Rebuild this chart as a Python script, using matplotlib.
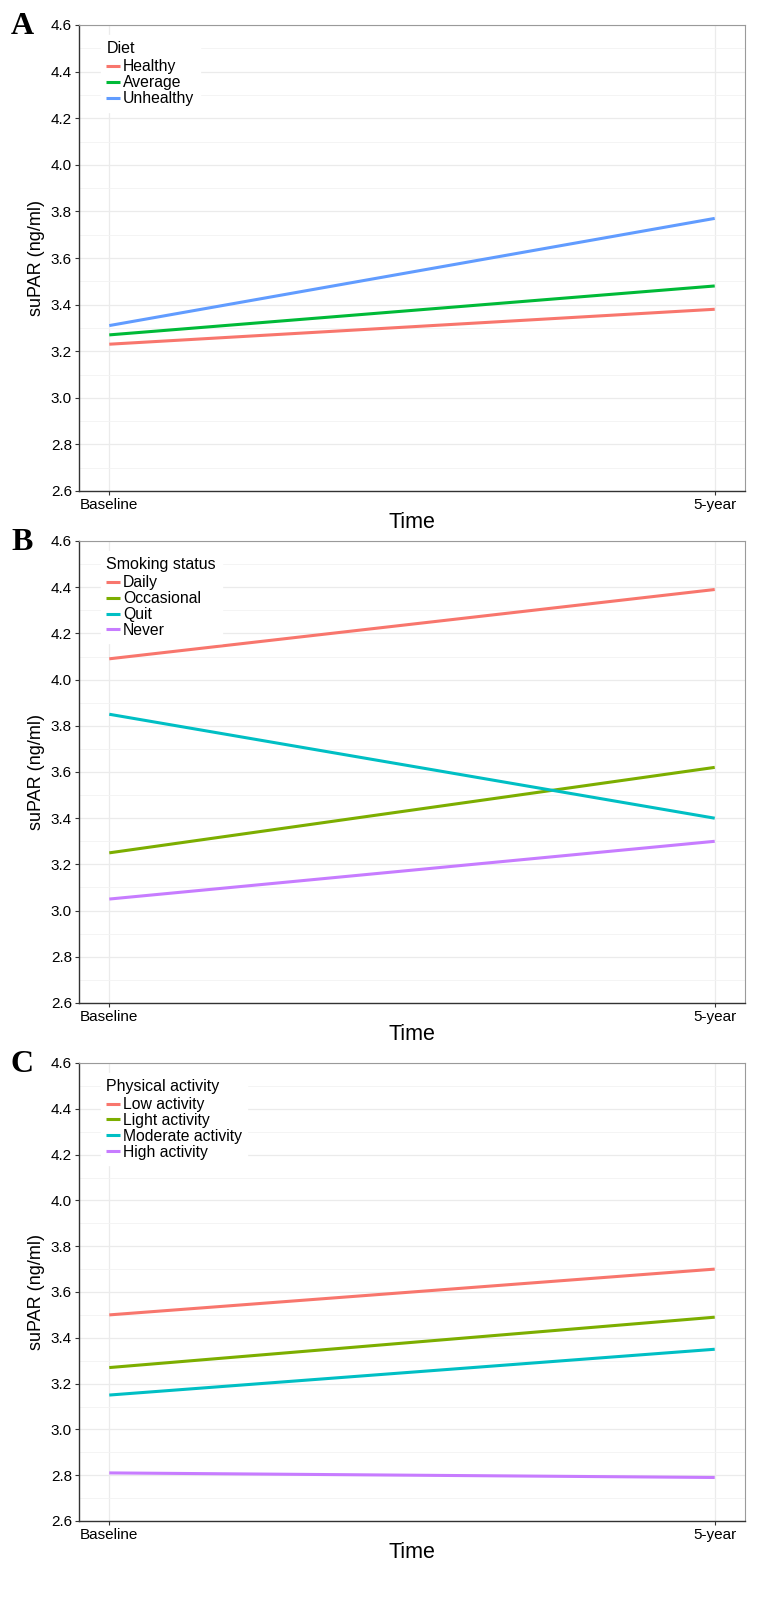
import matplotlib
matplotlib.use("Agg")
import matplotlib.pyplot as plt
from matplotlib.ticker import MultipleLocator

plt.rcParams['font.family'] = ['Liberation Sans', 'DejaVu Sans']

time_labels = ["Baseline", "5-year"]
time_pos = [1, 2]

diet_names = ["Healthy", "Average", "Unhealthy"]
diet_values = [[3.23, 3.38], [3.27, 3.48], [3.31, 3.77]]
diet_colors = ["#F8766D", "#00BA38", "#619CFF"]

smoke_names = ["Daily", "Occasional", "Quit", "Never"]
smoke_values = [[4.09, 4.39], [3.25, 3.62], [3.85, 3.40], [3.05, 3.30]]

pa_names = ["Low activity", "Light activity", "Moderate activity", "High activity"]
pa_values = [[3.50, 3.70], [3.27, 3.49], [3.15, 3.35], [2.81, 2.79]]

four_colors = ["#F8766D", "#7CAE00", "#00BFC4", "#C77CFF"]

W, H = 760, 1597
fig = plt.figure(figsize=(W / 100, H / 100), dpi=100)

panels = [
    ("A", "Diet", diet_names, diet_values, diet_colors, 25, 491),
    ("B", "Smoking status", smoke_names, smoke_values, four_colors, 541, 1003),
    ("C", "Physical activity", pa_names, pa_values, four_colors, 1063, 1521),
]

left_px, right_px = 79, 745
for letter, title, names, values, colors, top_px, bot_px in panels:
    ax = fig.add_axes([left_px / W, 1 - bot_px / H, (right_px - left_px) / W, (bot_px - top_px) / H])
    for name, vals, c in zip(names, values, colors):
        ax.plot(time_pos, vals, color=c, lw=2.2, label=name, solid_capstyle='butt', zorder=3)
    ax.set_ylim(2.6, 4.6)
    ax.set_xlim(0.95, 2.05)
    ax.yaxis.set_major_locator(MultipleLocator(0.2))
    ax.yaxis.set_minor_locator(MultipleLocator(0.1))
    ax.set_yticks([round(2.6 + 0.2 * i, 1) for i in range(11)])
    ax.set_yticklabels([f"{2.6 + 0.2 * i:.1f}" for i in range(11)])
    ax.set_xticks(time_pos)
    ax.set_xticklabels(time_labels)
    ax.grid(True, which='major', color='#EBEBEB', lw=0.9, zorder=0)
    ax.grid(True, which='minor', axis='y', color='#F3F3F3', lw=0.6, zorder=0)
    ax.set_axisbelow(True)
    for s in ['top', 'right']:
        ax.spines[s].set_color('#9a9a9a')
        ax.spines[s].set_linewidth(0.8)
    for s in ['left', 'bottom']:
        ax.spines[s].set_color('#333333')
        ax.spines[s].set_linewidth(1.0)
    ax.tick_params(axis='both', which='major', length=3, width=0.8, color='#333333',
                   labelsize=11, labelcolor='black', pad=2)
    ax.tick_params(axis='y', which='minor', length=0)
    ax.set_xlabel("Time", fontsize=15.5, labelpad=0)
    ax.set_ylabel("suPAR (ng/ml)", fontsize=13, labelpad=4)
    leg = ax.legend(title=title, loc='upper left', bbox_to_anchor=(0.033, 0.978),
                    frameon=True, fontsize=11.3, title_fontsize=11.5, handlelength=0.85,
                    handletextpad=0.2, labelspacing=0.06, borderpad=0.35,
                    borderaxespad=0.0, fancybox=False)
    leg.get_frame().set_facecolor('white')
    leg.get_frame().set_edgecolor('white')
    leg.get_frame().set_alpha(1.0)
    leg._legend_box.align = "left"
    leg._legend_box.sep = 2.5
    fig.text(11 / W, 1 - (top_px + 1) / H, letter, fontsize=23, fontweight='bold',
             family='Liberation Serif', va='center', ha='left')

fig.savefig("out.png", dpi=100, facecolor='white')
